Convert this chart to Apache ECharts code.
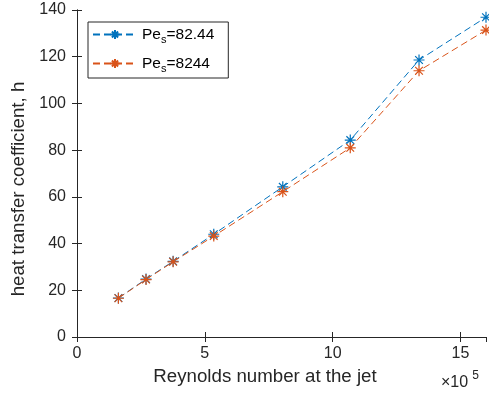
<!DOCTYPE html>
<html>
<head>
<meta charset="utf-8">
<script src="https://cdn.jsdelivr.net/npm/echarts@6/dist/echarts.min.js"></script>
<style>
  html, body { margin: 0; padding: 0; background: #fff; }
  #chart { width: 489px; height: 397px; }
</style>
</head>
<body>
<div id="chart"></div>
<script>
// data (x in units of 10^5)
const reynolds = [1.62, 2.70, 3.76, 5.35, 8.05, 10.69, 13.38, 16.0]
const hLowPe = [16.7, 24.8, 32.4, 44.0, 64.3, 84.3, 118.6, 136.9]
const hHighPe = [16.6, 24.6, 32.2, 43.2, 62.2, 81.0, 114.0, 131.4]
const seriesNames = ['Pe_s=82.44', 'Pe_s=8244']
const seriesColors = ['#0072BD', '#D95319']

const axisColor = '#262626'
const font = 'Liberation Sans, Arial, Helvetica, sans-serif'
const star = 'path://M5,0 L5,10 M0,5 L10,5 M1.5,1.5 L8.5,8.5 M1.5,8.5 L8.5,1.5'

const pairs = (xs, ys) => xs.map((x, i) => [x, ys[i]])

const makeSeries = (name, color, values) => ({
    name: name,
    type: 'line',
    data: pairs(reynolds, values),
    symbol: star,
    symbolSize: 11,
    showAllSymbol: true,
    clip: false,
    lineStyle: { color: color, width: 1, type: [7, 4] },
    itemStyle: { color: 'rgba(0,0,0,0)', borderColor: color, borderWidth: 1.2 },
    emphasis: { disabled: true },
    z: 3,
})

const plainAxis = {
    axisLine: { show: true, lineStyle: { color: axisColor, width: 1 } },
    axisTick: { show: true, inside: true, length: 5, lineStyle: { color: axisColor } },
    splitLine: { show: false },
}

const chart = echarts.init(document.getElementById('chart'))
chart.setOption({
    animation: false,
    textStyle: { fontFamily: font },
    grid: { left: 77, right: 3, top: 10, bottom: 60 },
    legend: {
        left: 88,
        top: 22,
        orient: 'vertical',
        itemWidth: 44,
        itemHeight: 11,
        itemGap: 8,
        padding: [2, 14, 4, 4],
        borderColor: axisColor,
        borderWidth: 1,
        backgroundColor: '#fff',
        data: seriesNames,
        formatter: (n) => {
            const parts = n.split('=')
            return '{a|Pe}{s|s}{a|=' + parts[1] + '}'
        },
        textStyle: {
            rich: {
                a: { fontSize: 15.5, color: '#000', fontFamily: font, lineHeight: 20 },
                s: { fontSize: 11, color: '#000', fontFamily: font, padding: [10, 0, 0, 0], lineHeight: 20 },
            },
        },
    },
    xAxis: [
        Object.assign({
            type: 'value', min: 0, max: 16, interval: 5,
            name: 'Reynolds number at the jet',
            nameLocation: 'middle',
            nameGap: 30,
            nameTextStyle: { fontSize: 18.7, color: axisColor, fontFamily: font, padding: [0, 33, 0, 0] },
            axisLabel: {
                fontSize: 16, color: axisColor, fontFamily: font, margin: 9,
                showMaxLabel: false,
            },
        }, plainAxis),
        Object.assign({
            type: 'value', min: 0, max: 16, interval: 5, position: 'top',
            axisLabel: { show: false },
        }, plainAxis),
    ],
    yAxis: [
        Object.assign({
            type: 'value', min: 0, max: 140, interval: 20,
            name: 'heat transfer coefficient, h',
            nameLocation: 'middle',
            nameGap: 45,
            nameTextStyle: { fontSize: 18.7, color: axisColor, fontFamily: font, padding: [0, 31, 0, 0] },
            axisLabel: { fontSize: 16, color: axisColor, fontFamily: font, margin: 11 },
        }, plainAxis),
        Object.assign({
            type: 'value', min: 0, max: 140, interval: 20, position: 'right',
            axisLabel: { show: false },
        }, plainAxis),
    ],
    graphic: [{
        type: 'text',
        left: 441,
        top: 370,
        style: {
            text: '{m|×10}{e|5}',
            rich: {
                m: { fontSize: 16, fill: axisColor, fontFamily: font, padding: [7, 0, 0, 0] },
                e: { fontSize: 12, fill: axisColor, fontFamily: font, padding: [0, 0, 7, 4] },
            },
        },
    }],
    series: [
        makeSeries(seriesNames[0], seriesColors[0], hLowPe),
        makeSeries(seriesNames[1], seriesColors[1], hHighPe),
    ],
})
</script>
</body>
</html>
